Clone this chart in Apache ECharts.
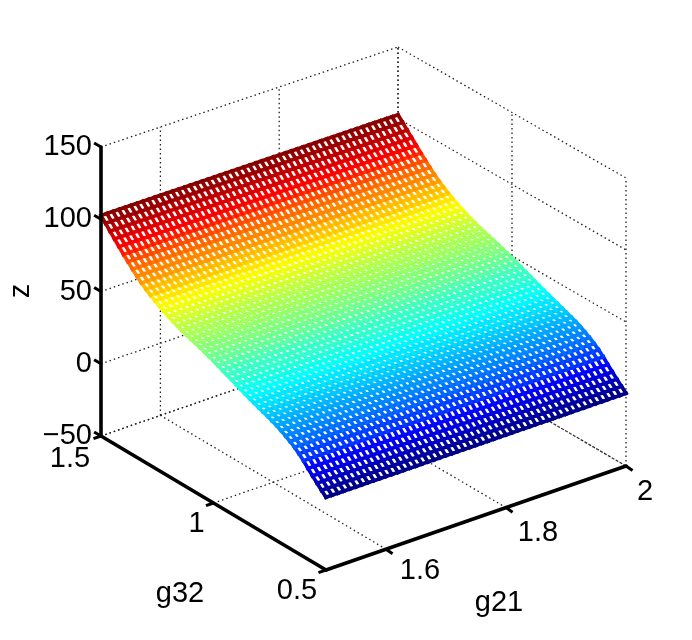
<!DOCTYPE html>
<html>
<head>
<meta charset="utf-8">
<style>
  html, body { margin: 0; padding: 0; background: #fff; }
  #chart { width: 692px; height: 640px; }
</style>
<script src="https://cdn.jsdelivr.net/npm/echarts@6/dist/echarts.min.js"></script>
</head>
<body>
<div id="chart"></div>
<script>
const g21Values = [1.5, 1.51, 1.52, 1.53, 1.54, 1.55, 1.56, 1.57, 1.58, 1.59, 1.6, 1.61, 1.62, 1.63, 1.64, 1.65, 1.66,
  1.67, 1.68, 1.69, 1.7, 1.71, 1.72, 1.73, 1.74, 1.75, 1.76, 1.77, 1.78, 1.79, 1.8, 1.81, 1.82, 1.83, 1.84, 1.85, 1.86,
  1.87, 1.88, 1.89, 1.9, 1.91, 1.92, 1.93, 1.94, 1.95, 1.96, 1.97, 1.98, 1.99, 2];
const g32Values = [0.5, 0.52, 0.54, 0.56, 0.58, 0.6, 0.62, 0.64, 0.66, 0.68, 0.7, 0.72, 0.74, 0.76, 0.78, 0.8, 0.82,
  0.84, 0.86, 0.88, 0.9, 0.92, 0.94, 0.96, 0.98, 1, 1.02, 1.04, 1.06, 1.08, 1.1, 1.12, 1.14, 1.16, 1.18, 1.2, 1.22,
  1.24, 1.26, 1.28, 1.3, 1.32, 1.34, 1.36, 1.38, 1.4, 1.42, 1.44, 1.46, 1.48, 1.5];
// z, one value per g32 row (it hardly moves along g21)
const zByG32 = [0.5, 3.5, 6.6, 9.8, 13.1, 16.6, 19.6, 22.2, 24.4, 26.4, 28.2, 29.9, 31.2, 32.5, 33.7, 35.0, 36.2, 37.5,
  38.8, 40.2, 41.6, 43.0, 44.4, 45.8, 47.1, 48.5, 49.8, 51.0, 52.2, 53.3, 54.3, 55.4, 56.5, 57.8, 59.2, 60.7, 62.3, 64.1,
  66.0, 68.0, 70.3, 72.7, 75.5, 78.5, 81.8, 85.0, 88.5, 92.0, 95.5, 99.1, 102.6];
const g21Ticks = [1.6, 1.8, 2];
const g32Ticks = [0.5, 1, 1.5];
const zTicks = [-50, 0, 50, 100, 150];
const g21TickLabels = ['1.6', '1.8', '2'];
const g32TickLabels = ['0.5', '1', '1.5'];
const zTickLabels = ['\u221250', '0', '50', '100', '150'];

// label offsets from their tick, in page pixels
const g21LabelOffsets = [[34, 22], [32, 25], [19, 26]];
const g32LabelOffsets = [[-29, 21], [-17, 21], [-31, 23]];

const G21_MIN = 1.5;
const G21_MAX = 2;
const G32_MIN = 0.5;
const G32_MAX = 1.5;
const Z_MIN = -50;
const Z_MAX = 150;
const FONT = '"Liberation Sans", Arial, sans-serif';
const FONT_SIZE = 29;
const TICK_LEN = 8;

// where the corners of the plot box land on the page
const boxLow = { // g21 = min
  g32Low: { zLow: [326, 570], zHigh: [326, 282] },
  g32High: { zLow: [101, 436], zHigh: [101, 147] },
};
const boxHigh = { // g21 = max
  g32Low: { zLow: [626, 466], zHigh: [626, 178] },
  g32High: { zLow: [398, 333], zHigh: [398, 47] },
};

function mix(a, b, t) {
  return [a[0] + (b[0] - a[0]) * t, a[1] + (b[1] - a[1]) * t];
}

function project(g21, g32, z) {
  const a = (g21 - G21_MIN) / (G21_MAX - G21_MIN);
  const b = (g32 - G32_MIN) / (G32_MAX - G32_MIN);
  const c = (z - Z_MIN) / (Z_MAX - Z_MIN);
  const low = mix(mix(boxLow.g32Low.zLow, boxLow.g32High.zLow, b), mix(boxLow.g32Low.zHigh, boxLow.g32High.zHigh, b), c);
  const high = mix(mix(boxHigh.g32Low.zLow, boxHigh.g32High.zLow, b), mix(boxHigh.g32Low.zHigh, boxHigh.g32High.zHigh, b), c);
  return mix(low, high, a);
}

function clip01(v) {
  return Math.max(0, Math.min(1, v));
}

function jet(z) {
  const zMin = Math.min.apply(null, zByG32);
  const zMax = Math.max.apply(null, zByG32);
  // matlab jet has 64 steps
  const t = (Math.min(63, Math.floor((z - zMin) / (zMax - zMin) * 64)) + 0.5) / 64;
  const r = clip01(Math.min(4 * t - 1.5, -4 * t + 4.5));
  const g = clip01(Math.min(4 * t - 0.5, -4 * t + 3.5));
  const b = clip01(Math.min(4 * t + 0.5, -4 * t + 2.5));
  return `rgb(${Math.round(r * 255)},${Math.round(g * 255)},${Math.round(b * 255)})`;
}

// dotted grid on the floor and the two back walls
const gridLines = [];
g21Ticks.forEach((t) => {
  gridLines.push([t, G32_MIN, Z_MIN, t, G32_MAX, Z_MIN]);
  gridLines.push([t, G32_MAX, Z_MIN, t, G32_MAX, Z_MAX]);
});
g32Ticks.forEach((t) => {
  gridLines.push([G21_MIN, t, Z_MIN, G21_MAX, t, Z_MIN]);
  gridLines.push([G21_MAX, t, Z_MIN, G21_MAX, t, Z_MAX]);
});
zTicks.forEach((t) => {
  gridLines.push([G21_MIN, G32_MAX, t, G21_MAX, G32_MAX, t]);
  gridLines.push([G21_MAX, G32_MAX, t, G21_MAX, G32_MIN, t]);
});

const meshFaces = [];
const meshEdges = [];
g32Values.forEach((g32, j) => {
  g21Values.forEach((g21, i) => {
    if (i < g21Values.length - 1 && j < g32Values.length - 1) {
      meshFaces.push([i, j]);
    }
    if (i < g21Values.length - 1) {
      meshEdges.push([i, j, i + 1, j]);
    }
    if (j < g32Values.length - 1) {
      meshEdges.push([i, j, i, j + 1]);
    }
  });
});

const axisLines = [
  [G21_MIN, G32_MAX, Z_MIN, G21_MIN, G32_MAX, Z_MAX],
  [G21_MIN, G32_MAX, Z_MIN, G21_MIN, G32_MIN, Z_MIN],
  [G21_MIN, G32_MIN, Z_MIN, G21_MAX, G32_MIN, Z_MIN],
];

const labelItems = [];
zTicks.forEach((t, i) => {
  const p = project(G21_MIN, G32_MAX, t);
  labelItems.push({ text: zTickLabels[i], x: p[0] - 9, y: p[1], align: 'right' });
});
g32Ticks.forEach((t, i) => {
  const p = project(G21_MIN, t, Z_MIN);
  labelItems.push({ text: g32TickLabels[i], x: p[0] + g32LabelOffsets[i][0], y: p[1] + g32LabelOffsets[i][1], align: 'center' });
});
g21Ticks.forEach((t, i) => {
  const p = project(t, G32_MIN, Z_MIN);
  labelItems.push({ text: g21TickLabels[i], x: p[0] + g21LabelOffsets[i][0], y: p[1] + g21LabelOffsets[i][1], align: 'center' });
});
labelItems.push({ text: 'g32', x: 180, y: 594, align: 'center' });
labelItems.push({ text: 'g21', x: 499, y: 603, align: 'center' });
labelItems.push({ text: 'z', x: 21, y: 291, align: 'center', rotate: Math.PI / 2 });

function segmentPoints(api) {
  const a = project(api.value(0), api.value(1), api.value(2));
  const b = project(api.value(3), api.value(4), api.value(5));
  return [api.coord(a), api.coord(b)];
}

const chart = echarts.init(document.getElementById('chart'));

chart.setOption({
  animation: false,
  backgroundColor: '#fff',
  grid: { left: 0, right: 0, top: 0, bottom: 0 },
  xAxis: { type: 'value', min: 0, max: 692, show: false },
  yAxis: { type: 'value', min: 0, max: 640, inverse: true, show: false },
  series: [
    {
      type: 'custom',
      silent: true,
      clip: false,
      z: 1,
      progressive: 0,
      data: gridLines,
      renderItem: (params, api) => {
        const pts = segmentPoints(api);
        return {
          type: 'line',
          shape: { x1: pts[0][0], y1: pts[0][1], x2: pts[1][0], y2: pts[1][1] },
          style: { stroke: '#222', lineWidth: 1.3, lineDash: [1.5, 3] },
        };
      },
    },
    {
      // white faces hide the grid behind the mesh
      type: 'custom',
      silent: true,
      clip: false,
      z: 2,
      progressive: 0,
      data: meshFaces,
      renderItem: (params, api) => {
        const i = api.value(0);
        const j = api.value(1);
        const pts = [[i, j], [i + 1, j], [i + 1, j + 1], [i, j + 1]].map((c) => {
          return api.coord(project(g21Values[c[0]], g32Values[c[1]], zByG32[c[1]]));
        });
        return {
          type: 'polygon',
          shape: { points: pts },
          style: { fill: '#fff', stroke: '#fff', lineWidth: 1 },
        };
      },
    },
    {
      type: 'custom',
      silent: true,
      clip: false,
      z: 3,
      progressive: 0,
      data: meshEdges,
      renderItem: (params, api) => {
        const i1 = api.value(0);
        const j1 = api.value(1);
        const i2 = api.value(2);
        const j2 = api.value(3);
        const a = api.coord(project(g21Values[i1], g32Values[j1], zByG32[j1]));
        const b = api.coord(project(g21Values[i2], g32Values[j2], zByG32[j2]));
        return {
          type: 'line',
          shape: { x1: a[0], y1: a[1], x2: b[0], y2: b[1] },
          style: { stroke: jet((zByG32[j1] + zByG32[j2]) / 2), lineWidth: 3.7, lineCap: 'square' },
        };
      },
    },
    {
      type: 'custom',
      silent: true,
      clip: false,
      z: 4,
      progressive: 0,
      data: axisLines,
      renderItem: (params, api) => {
        const pts = segmentPoints(api);
        return {
          type: 'line',
          shape: { x1: pts[0][0], y1: pts[0][1], x2: pts[1][0], y2: pts[1][1] },
          style: { stroke: '#000', lineWidth: 3.6, lineCap: 'round' },
        };
      },
    },
    {
      // z and g32 ticks stick out of the box, g21 ticks go towards the viewer
      type: 'custom',
      silent: true,
      clip: false,
      z: 4,
      progressive: 0,
      data: [
        ...zTicks.map((t) => [G21_MIN, G32_MAX, t, -0.86, -0.51]),
        ...g32Ticks.map((t) => [G21_MIN, t, Z_MIN, -0.94, 0.33]),
        ...g21Ticks.map((t) => [t, G32_MIN, Z_MIN, 0.82, 0.57]),
      ],
      renderItem: (params, api) => {
        const p = api.coord(project(api.value(0), api.value(1), api.value(2)));
        return {
          type: 'line',
          shape: {
            x1: p[0],
            y1: p[1],
            x2: p[0] + api.value(3) * TICK_LEN,
            y2: p[1] + api.value(4) * TICK_LEN,
          },
          style: { stroke: '#000', lineWidth: 3 },
        };
      },
    },
    {
      type: 'custom',
      silent: true,
      clip: false,
      z: 5,
      progressive: 0,
      data: labelItems.map((l, i) => [i]),
      renderItem: (params) => {
        const l = labelItems[params.dataIndex];
        return {
          type: 'text',
          x: l.x,
          y: l.y,
          rotation: l.rotate || 0,
          style: {
            text: l.text,
            font: `${FONT_SIZE}px ${FONT}`,
            fill: '#000',
            align: l.align,
            verticalAlign: 'middle',
          },
        };
      },
    },
  ],
});
</script>
</body>
</html>
